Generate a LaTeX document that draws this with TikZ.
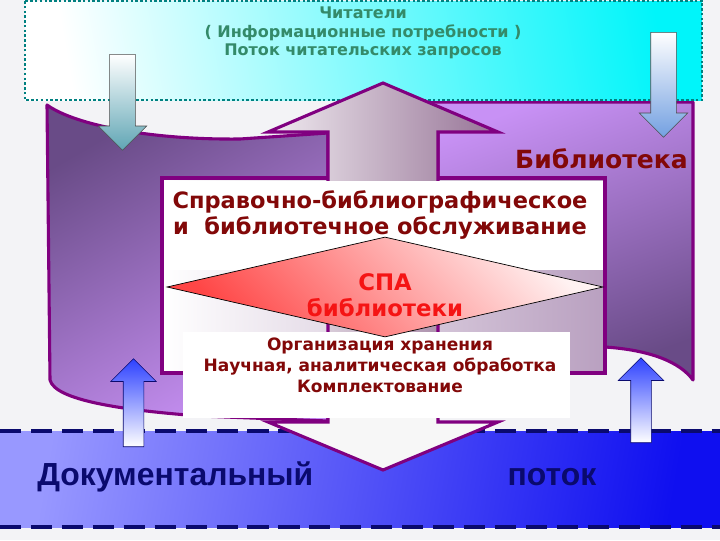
\documentclass[tikz,border=0pt]{standalone}
\usepackage{fontspec}
\setmainfont{DejaVu Sans}
\newfontfamily\arialfont{Liberation Sans}
\usetikzlibrary{shapes.geometric,shapes.arrows}

\definecolor{bgcol}{RGB}{243,243,246}
\definecolor{frame}{RGB}{128,0,128}
\definecolor{violetL}{RGB}{200,145,245}
\definecolor{purpleD}{RGB}{105,75,135}
\definecolor{darkred}{RGB}{130,8,8}
\definecolor{spared}{RGB}{245,20,20}
\definecolor{readgreen}{RGB}{52,138,105}
\definecolor{navy}{RGB}{10,10,110}
\definecolor{dotteal}{RGB}{0,128,128}
\definecolor{arrowteal}{RGB}{95,165,180}
\definecolor{arrowsky}{RGB}{115,160,225}
\definecolor{arrowblue}{RGB}{45,65,255}
\definecolor{bandlight}{RGB}{152,152,255}
\definecolor{banddark}{RGB}{15,15,240}
\definecolor{cyantop}{RGB}{0,245,250}
\definecolor{cyanmid}{RGB}{235,253,254}
\definecolor{mauveR}{RGB}{185,160,192}
\definecolor{shaftL}{RGB}{240,235,240}
\definecolor{shaftR}{RGB}{150,115,150}
\definecolor{spapale}{RGB}{255,242,242}
\definecolor{spapink}{RGB}{255,70,70}

\newcommand{\twowayarrow}{(383,83) -- (498,132) -- (438,132) -- (438,422) -- (498,422) -- (383,470) -- (268,422) -- (328,422) -- (328,132) -- (268,132) -- cycle}

\tikzset{
  panel/.style={draw=frame, line width=2.2pt, line join=round},
  boxtext/.style={font=\bfseries, text=darkred, align=center, inner sep=0pt},
  reqarrow/.style={single arrow, shape border rotate=270, draw=black!70, line width=0.4pt,
    inner sep=0.3125cm, single arrow head extend=0.2875cm, anchor=tail},
  docarrow/.style={single arrow, shape border rotate=90, draw=navy, line width=0.4pt,
    inner sep=0.25cm, single arrow head extend=0.3125cm, anchor=tail,
    top color=arrowblue, bottom color=white}
}

\begin{document}
\begin{tikzpicture}[x=0.025cm, y=-0.025cm]
  \useasboundingbox (0,0) rectangle (720,540);
  \fill[bgcol] (0,0) rectangle (720,540);

  % documentary flow band
  \shade[top color=bandlight, bottom color=banddark, shading angle=80] (0,431) rectangle (720,527);
  \draw[navy, line width=2.2pt, dash pattern=on 15pt off 7pt] (0,431) -- (720,431);
  \draw[navy, line width=2.2pt, dash pattern=on 15pt off 7pt] (0,527) -- (720,527);
  \node[font=\arialfont\bfseries\fontsize{22.7}{27}\selectfont, text=navy, anchor=west, inner sep=0pt] (docword) at (37,477) {Документальный};
  \node[font=\arialfont\bfseries\fontsize{22.7}{27}\selectfont, text=navy, inner sep=0pt] (flowword) at (552,477) {поток};

  % library panels
  \draw[panel, top color=purpleD, bottom color=violetL, shading angle=30]
    (47,105) .. controls (75,125) and (150,140) .. (240,139) -- (328,133) -- (328,421)
    -- (200,416) .. controls (120,410) and (55,400) .. (50,380) -- cycle;
  \draw[panel, top color=violetL, bottom color=purpleD, shading angle=20]
    (420,102) -- (693,102) -- (693,380) .. controls (680,362) and (650,350) .. (605,347)
    -- (605,178) -- (438,178) -- (438,132) -- (420,132) -- cycle;

  % readers
  \shade[top color=cyantop, middle color=cyanmid, bottom color=white, shading angle=-80] (25,1) rectangle (702,100);
  \draw[dotteal, line width=1.8pt, dash pattern=on 1.8pt off 1.6pt] (25,1) rectangle (702,100);
  \node[font=\bfseries\fontsize{11.4}{13.2}\selectfont, text=readgreen, align=center, inner sep=0pt] (readers) at (363,33)
    {Читатели\\( Информационные потребности )\\Поток читательских запросов};

  \draw[frame, line width=2.2pt, left color=white, right color=mauveR] (162,178) rectangle (605,373);

  % two-way arrow
  \fill[left color=shaftL, right color=shaftR] \twowayarrow;
  \begin{scope}
    \clip (0,374) rectangle (720,540);
    \fill[white!97!black] \twowayarrow;
  \end{scope}
  \draw[frame, line width=2.2pt, line join=miter] \twowayarrow;

  \fill[white] (164,181) rectangle (603,270);
  \node[boxtext, font=\bfseries\fontsize{16}{19}\selectfont] (service) at (380,215)
    {Справочно-библиографическое\\и\ \ библиотечное обслуживание};
  \fill[white] (183,332) rectangle (570,418);
  \node[boxtext, font=\bfseries\fontsize{12.1}{15}\selectfont] (storage) at (380,365)
    {Организация хранения\\Научная, аналитическая обработка\\Комплектование};

  % SPA
  \node[diamond, draw=black, line width=0.5pt, minimum width=10.9cm, minimum height=2.5cm, inner sep=0pt,
    top color=spapale, bottom color=spapink, shading angle=-45] (spa) at (385,287) {};
  \node[font=\bfseries\fontsize{16.2}{18.5}\selectfont, text=spared, align=center, inner sep=0pt] (spatitle) at (385,295)
    {СПА\\библиотеки};

  \node[font=\bfseries\fontsize{17.8}{20}\selectfont, text=darkred, anchor=east, inner sep=0pt] (library) at (688,159) {Библиотека};

  % request and document arrows
  \node[reqarrow, minimum height=2.4cm, top color=white, bottom color=arrowteal] (reqL) at (122.5,54) {};
  \node[reqarrow, minimum height=2.625cm, top color=white, bottom color=arrowsky] (reqR) at (663.5,32) {};
  \node[docarrow, minimum height=2.2cm] (docL) at (133.5,447) {};
  \node[docarrow, minimum height=2.125cm] (docR) at (641,443) {};
\end{tikzpicture}
\end{document}
